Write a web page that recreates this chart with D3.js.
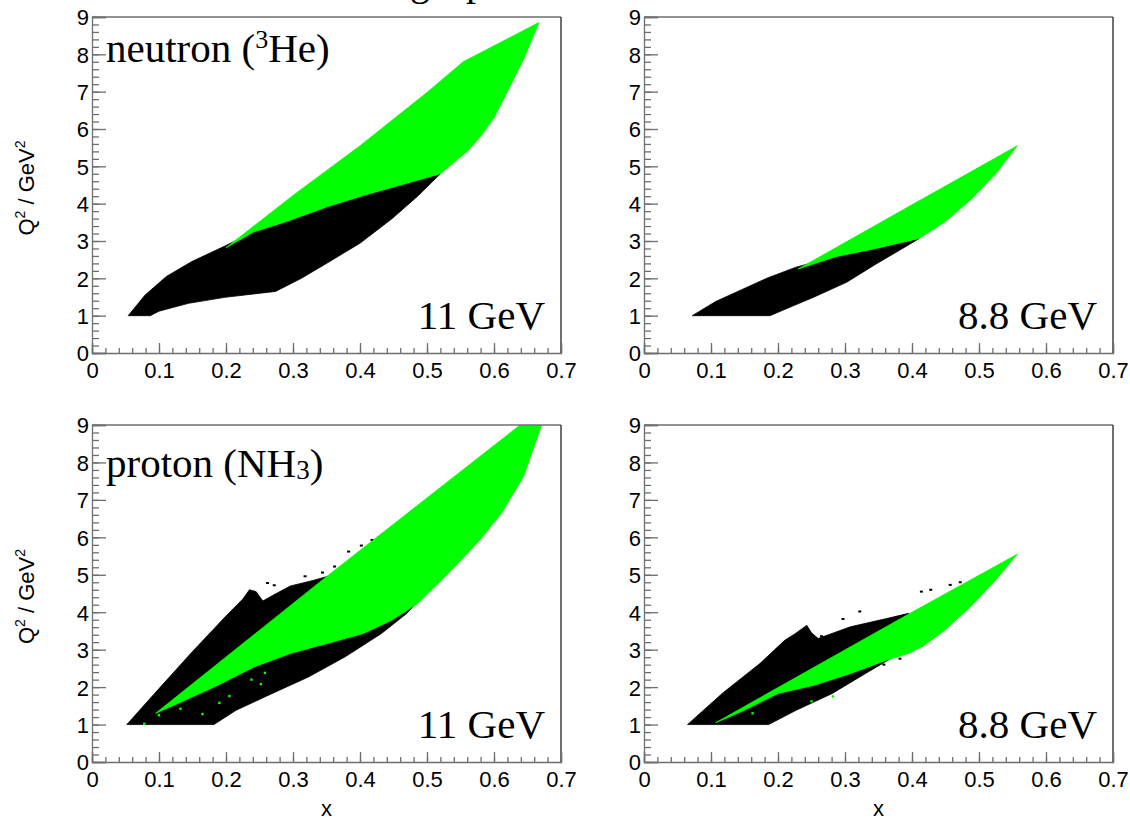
<!DOCTYPE html>
<html>
<head>
<meta charset="utf-8">
<script src="https://cdn.jsdelivr.net/npm/d3@7"></script>
<style>
  body { margin: 0; background: #fff; }
  svg { display: block; }
</style>
</head>
<body>
<svg id="chart" width="1130" height="820"></svg>
<script>
// ---------------- DATA ----------------
const xTicks = [0, 0.1, 0.2, 0.3, 0.4, 0.5, 0.6, 0.7];
const yTicks = [0, 1, 2, 3, 4, 5, 6, 7, 8, 9];
const xDomain = [0, 0.7];
const yDomain = [0, 9];

const panelEnergies = ["11 GeV", "8.8 GeV", "11 GeV", "8.8 GeV"];

// neutron (3He), 11 GeV
const n11Black = [[0.054,1],[0.087,1],[0.1,1.12],[0.144,1.33],[0.198,1.49],[0.274,1.65],[0.3125,2.0],[0.35,2.4],[0.4,2.94],[0.448,3.6],[0.486,4.2],[0.52,4.8],
  [0.459,4.49],[0.405,4.22],[0.35,3.91],[0.285,3.49],[0.242,3.25],[0.2,2.88],[0.149,2.45],[0.111,2.05],[0.079,1.55]];
const n11Green = [[0.2,2.82],[0.3,4.22],[0.4,5.55],[0.5,6.98],[0.554,7.8],[0.667,8.85],[0.645,7.9],[0.62,7.0],[0.6,6.3],[0.58,5.8],[0.56,5.4],[0.54,5.1],[0.52,4.8],
  [0.459,4.49],[0.405,4.22],[0.35,3.91],[0.285,3.49],[0.242,3.25]];

// neutron (3He), 8.8 GeV
const n88Black = [[0.072,1],[0.188,1],[0.221,1.25],[0.254,1.5],[0.303,1.9],[0.346,2.38],[0.384,2.78],[0.411,3.07],
  [0.346,2.8],[0.286,2.58],[0.227,2.3],[0.183,2.0],[0.145,1.69],[0.107,1.38]];
const n88Green = [[0.23,2.25],[0.4,3.97],[0.557,5.55],[0.525,4.8],[0.487,4.09],[0.449,3.51],[0.411,3.07],[0.346,2.8],[0.286,2.58]];

// proton (NH3), 11 GeV
const p11Black = [[0.052,1],[0.182,1],[0.215,1.38],[0.269,1.83],[0.323,2.27],[0.378,2.81],[0.432,3.43],[0.47,3.97],[0.497,4.5],[0.535,5.12],
  [0.35,4.95],[0.33,4.85],[0.296,4.7],[0.27,4.45],[0.255,4.3],[0.245,4.55],[0.235,4.6],[0.225,4.35],[0.2,3.9],[0.15,2.95],[0.1,1.96]];
const p11Green = [[0.095,1.3],[0.35,4.95],[0.639,9],[0.671,9],[0.644,7.62],[0.611,6.64],[0.579,5.93],[0.541,5.21],[0.524,4.9],
  [0.486,4.23],[0.448,3.79],[0.405,3.43],[0.35,3.16],[0.296,2.9],[0.242,2.54],[0.188,2.05],[0.133,1.6]];
const p11BlackSpecks = [[0.383,5.62],[0.402,5.78],[0.418,5.93],[0.428,6.0],[0.362,5.22],[0.344,5.06],[0.318,4.96],
  [0.272,4.72],[0.262,4.78],[0.466,4.12],[0.483,4.33],[0.503,4.6],[0.442,3.88],[0.516,4.82]];
const p11GreenSpecks = [[0.1,1.25],[0.132,1.42],[0.19,1.58],[0.205,1.76],[0.238,2.2],[0.258,2.38],[0.252,2.08],[0.078,1.02],[0.165,1.28]];

// proton (NH3), 8.8 GeV
const p88Black = [[0.065,1],[0.186,1],[0.227,1.38],[0.281,1.83],[0.335,2.41],[0.39,2.99],[0.417,3.1],
  [0.395,3.97],[0.362,3.83],[0.308,3.61],[0.26,3.3],[0.25,3.45],[0.243,3.65],[0.225,3.42],[0.21,3.25],[0.173,2.63],[0.118,1.85]];
const p88Green = [[0.107,1.05],[0.395,3.95],[0.557,5.55],[0.525,4.86],[0.487,4.14],[0.449,3.52],[0.417,3.1],[0.395,2.9],
  [0.362,2.72],[0.308,2.36],[0.254,2.05],[0.2,1.83],[0.145,1.34]];
const p88BlackSpecks = [[0.414,4.55],[0.428,4.6],[0.457,4.73],[0.472,4.8],[0.322,4.02],[0.297,3.82],[0.265,3.36],
  [0.382,2.76],[0.358,2.6],[0.401,3.02]];
const p88GreenSpecks = [[0.282,1.75],[0.162,1.3],[0.25,1.62]];

const panelBlack = [n11Black, n88Black, p11Black, p88Black];
const panelGreen = [n11Green, n88Green, p11Green, p88Green];
const panelBlackSpecks = [[], [], p11BlackSpecks, p88BlackSpecks];
const panelGreenSpecks = [[], [], p11GreenSpecks, p88GreenSpecks];

// ---------------- LAYOUT ----------------
const panels = [
  {l: 92,  r: 561,  t: 17,  b: 353},
  {l: 644, r: 1113, t: 17,  b: 353},
  {l: 92,  r: 561,  t: 425, b: 762},
  {l: 644, r: 1113, t: 425, b: 762}
];
const GREEN = "#00ff00";
const AXIS = "#6e6e6e";
const serif = "'Liberation Serif', 'Times New Roman', serif";
const sans = "'Liberation Sans', Arial, Helvetica, sans-serif";

const svg = d3.select("#chart");

// clipped title (only descenders visible at top edge)
const title = svg.append("text").attr("y", -5)
  .attr("font-family", serif).attr("font-size", 40).attr("fill", "#000");
title.append("tspan").attr("x", 410).text("g");
title.append("tspan").attr("x", 466).text("p");

const fmtX = d => d === 0 ? "0" : d3.format(".1f")(d);

panels.forEach((p, i) => {
  const x = d3.scaleLinear().domain(xDomain).range([p.l, p.r]);
  const y = d3.scaleLinear().domain(yDomain).range([p.b, p.t]);
  const g = svg.append("g");
  const clipId = "clip" + i;
  g.append("clipPath").attr("id", clipId).append("rect")
    .attr("x", p.l).attr("y", p.t).attr("width", p.r - p.l).attr("height", p.b - p.t);

  const line = d3.line().x(d => x(d[0])).y(d => y(d[1])).curve(d3.curveLinearClosed);
  const plot = g.append("g").attr("clip-path", `url(#${clipId})`);
  plot.append("path").attr("d", line(panelBlack[i])).attr("fill", "#000").attr("stroke", "#000").attr("stroke-width", 0.8);
  plot.selectAll("rect.bs").data(panelBlackSpecks[i]).enter().append("rect").attr("class", "bs")
    .attr("x", d => x(d[0]) - 1.5).attr("y", d => y(d[1]) - 1).attr("width", 3).attr("height", 2).attr("fill", "#000");
  plot.append("path").attr("d", line(panelGreen[i])).attr("fill", GREEN).attr("stroke", GREEN).attr("stroke-width", 0.8);
  plot.selectAll("rect.gs").data(panelGreenSpecks[i]).enter().append("rect").attr("class", "gs")
    .attr("x", d => x(d[0]) - 1.2).attr("y", d => y(d[1]) - 1.2).attr("width", 2.4).attr("height", 2.4).attr("fill", GREEN);

  // frame (top grey, right dark)
  g.append("line").attr("x1", p.l).attr("x2", p.r).attr("y1", p.t).attr("y2", p.t).attr("stroke", AXIS).attr("stroke-width", 1.3);
  g.append("line").attr("x1", p.r).attr("x2", p.r).attr("y1", p.t).attr("y2", p.b).attr("stroke", "#222").attr("stroke-width", 1.3);

  // minor ticks
  const xMinor = d3.range(0, 0.7001, 0.02);
  const yMinor = d3.range(0, 9.001, 0.2);
  const xMinorAxis = d3.axisBottom(x).tickValues(xMinor).tickSize(-5).tickFormat("");
  const yMinorAxis = d3.axisLeft(y).tickValues(yMinor).tickSize(-7).tickFormat("");
  const gxm = g.append("g").attr("transform", `translate(0,${p.b})`).call(xMinorAxis);
  const gym = g.append("g").attr("transform", `translate(${p.l},0)`).call(yMinorAxis);
  [gxm, gym].forEach(a => { a.select(".domain").remove(); a.selectAll("line").attr("stroke", AXIS).attr("stroke-width", 1.3); });

  // major ticks with labels
  const xAxis = d3.axisBottom(x).tickValues(xTicks).tickSize(-10).tickPadding(9).tickFormat(fmtX);
  const yAxis = d3.axisLeft(y).tickValues(yTicks).tickSize(-14).tickPadding(3).tickFormat(d3.format("d"));
  const gx = g.append("g").attr("transform", `translate(0,${p.b})`).call(xAxis);
  const gy = g.append("g").attr("transform", `translate(${p.l},0)`).call(yAxis);
  [gx, gy].forEach(a => {
    a.select(".domain").attr("stroke", AXIS).attr("stroke-width", 1.3);
    a.selectAll("line").attr("stroke", AXIS).attr("stroke-width", 1.3);
    a.selectAll("text").attr("font-family", sans).attr("font-size", 22).attr("fill", "#000");
  });
  gx.selectAll("text").attr("dy", "0.71em");
  gy.selectAll("text").attr("dy", "0.36em");

  // energy label
  g.append("text").attr("x", p.r - 16).attr("y", p.b - 24)
    .attr("text-anchor", "end").attr("font-family", serif).attr("font-size", 41).attr("fill", "#000")
    .text(panelEnergies[i]);

  // target label
  if (i === 0) {
    const t = g.append("text").attr("x", p.l + 14).attr("y", p.t + 45)
      .attr("font-family", serif).attr("font-size", 41).attr("fill", "#000");
    t.append("tspan").text("neutron (");
    t.append("tspan").attr("font-size", 26).attr("dy", -14).text("3");
    t.append("tspan").attr("dy", 14).text("He)");
  } else if (i === 2) {
    const t = g.append("text").attr("x", p.l + 14).attr("y", p.t + 52)
      .attr("font-family", serif).attr("font-size", 41).attr("fill", "#000");
    t.append("tspan").text("proton (NH");
    t.append("tspan").attr("font-size", 27).attr("dy", 2).text("3");
    t.append("tspan").attr("dy", -2).text(")");
  }

  // y-axis title on left panels
  if (i % 2 === 0) {
    const cy = (p.t + p.b) / 2 + 3;
    const yt = g.append("text").attr("transform", `translate(34,${cy}) rotate(-90)`)
      .attr("text-anchor", "middle").attr("font-family", sans).attr("font-size", 22).attr("fill", "#000");
    yt.append("tspan").text("Q");
    yt.append("tspan").attr("font-size", 14).attr("dy", -9).text("2");
    yt.append("tspan").attr("dy", 9).text(" / GeV");
    yt.append("tspan").attr("font-size", 14).attr("dy", -9).text("2");
  }
  // x-axis title on bottom panels
  if (i >= 2) {
    g.append("text").attr("x", (p.l + p.r) / 2).attr("y", 816)
      .attr("text-anchor", "middle").attr("font-family", sans).attr("font-size", 22).attr("fill", "#000")
      .text("x");
  }
});
</script>
</body>
</html>
